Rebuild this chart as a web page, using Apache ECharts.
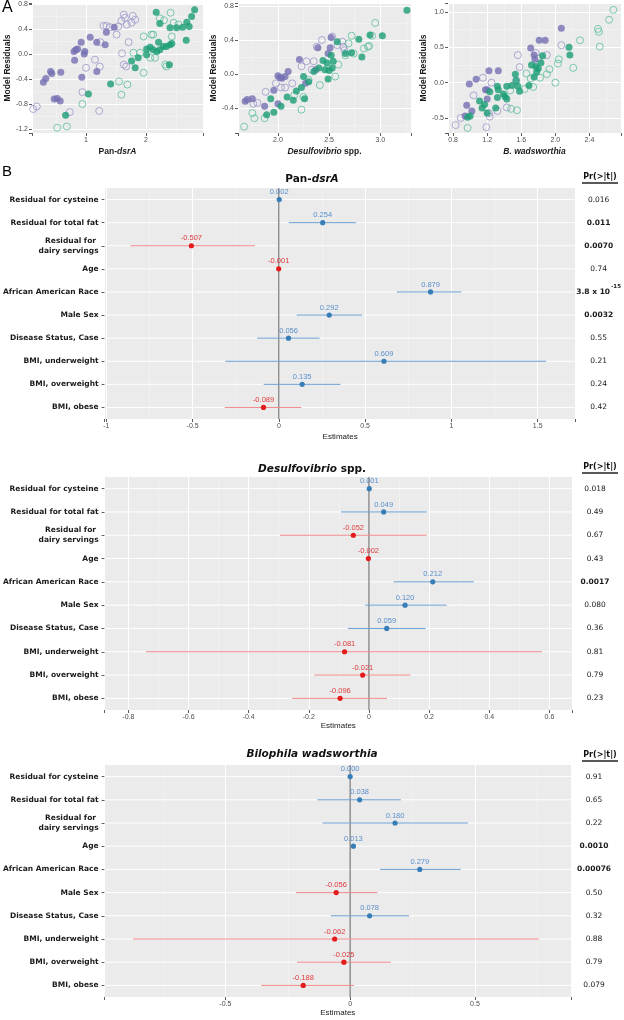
<!DOCTYPE html>
<html><head><meta charset="utf-8">
<script src="https://cdn.jsdelivr.net/npm/echarts@6/dist/echarts.min.js"></script>
<style>html,body{margin:0;padding:0;background:#fff}#c{width:624px;height:1020px}</style>
</head><body><div id="c"></div>
<script>
// ---------- Panel A data: [x, y] ----------
const dsrPurpleFilled = [[0.29,-0.45],[0.33,-0.39],[0.41,-0.28],[0.43,-0.31],[0.58,-0.29],[0.47,-0.72],[0.52,-0.71],[0.57,-0.75],[0.81,-0.10],[0.80,0.04],[0.83,0.07],[0.86,0.08],[0.97,0.0],[0.98,0.04],[0.92,0.19],[1.07,0.27],[1.18,0.19],[0.93,-0.37],[1.18,-0.28],[1.32,0.15],[1.34,0.35],[1.47,0.43]];
const dsrPurpleOpen = [[0.12,-0.88],[0.18,-0.84],[0.73,-0.93],[0.94,-0.61],[1.0,-0.22],[1.15,-0.09],[1.23,-0.20],[1.22,-0.91],[1.29,0.45],[1.34,0.45],[1.40,0.43],[1.51,0.31],[1.54,0.44],[1.59,0.53],[1.65,0.58],[1.68,0.47],[1.76,0.50],[1.78,0.61],[1.82,0.55],[1.63,0.63],[1.71,0.19],[1.60,0.01],[1.63,-0.17],[1.67,-0.20],[1.24,0.19]];
const dsrGreenOpen = [[0.52,-1.18],[0.68,-1.16],[0.94,-0.80],[1.55,-0.44],[1.69,-0.49],[1.59,-0.65],[1.96,-0.30],[1.96,0.28],[2.09,0.31],[2.12,0.31],[2.07,-0.06],[2.15,-0.06],[2.32,-0.17],[2.34,-0.20],[2.23,0.57],[2.30,0.54],[2.41,0.66],[2.46,0.50],[2.43,0.28],[2.54,0.47],[1.90,0.02],[1.79,0.02]];
const dsrGreenFilled = [[0.66,-0.98],[1.04,-0.64],[1.41,-0.48],[1.76,-0.11],[1.82,-0.22],[1.87,-0.06],[2.01,-0.01],[2.01,0.08],[2.07,0.11],[2.12,0.07],[2.18,0.04],[2.23,0.07],[2.29,0.12],[2.34,0.12],[2.40,0.15],[2.43,0.17],[2.21,0.19],[2.39,-0.17],[2.17,0.67],[2.23,0.49],[2.40,0.42],[2.51,0.42],[2.61,0.43],[2.68,0.51],[2.72,0.44],[2.76,0.60],[2.81,0.71],[2.67,0.22]];

const desPurpleFilled = [[1.68,-0.32],[1.70,-0.30],[1.75,-0.29],[1.87,-0.38],[1.96,-0.19],[2.0,-0.02],[2.02,-0.04],[2.04,-0.05],[2.07,-0.03],[2.10,0.03],[2.0,-0.35],[2.21,0.17],[2.27,-0.11],[2.39,0.31],[2.37,0.05],[2.52,0.43],[2.51,0.31],[2.49,0.24]];
const desPurpleOpen = [[1.88,-0.21],[1.76,-0.35],[1.80,-0.34],[1.98,-0.11],[2.03,-0.16],[2.07,-0.16],[2.14,-0.11],[2.23,0.09],[2.28,0.15],[2.35,0.15],[2.38,0.32],[2.33,0.05],[2.43,0.40],[2.53,0.44],[2.58,0.34],[2.63,0.38],[2.64,0.32],[2.65,0.28]];
const desGreenOpen = [[1.67,-0.62],[1.75,-0.46],[1.77,-0.52],[1.87,-0.52],[2.16,-0.25],[2.23,-0.42],[2.25,-0.27],[2.30,-0.07],[2.41,-0.13],[2.56,-0.03],[2.59,0.11],[2.66,0.22],[2.69,0.36],[2.74,0.24],[2.84,0.30],[2.89,0.33],[2.92,0.45],[2.72,0.45],[2.95,0.60],[2.88,0.32]];
const desGreenFilled = [[1.89,-0.48],[1.93,-0.29],[1.96,-0.45],[2.03,-0.38],[2.09,-0.27],[2.15,-0.31],[2.18,-0.20],[2.23,-0.16],[2.25,-0.03],[2.26,-0.29],[2.30,-0.09],[2.35,0.03],[2.40,0.07],[2.44,0.16],[2.48,0.13],[2.46,0.05],[2.49,-0.06],[2.50,0.04],[2.53,0.07],[2.54,0.15],[2.52,0.22],[2.58,0.38],[2.66,0.24],[2.72,0.25],[2.79,0.41],[2.82,0.20],[2.90,0.46],[3.02,0.45],[3.26,0.75]];

const bwPurpleFilled = [[0.96,-0.32],[0.94,-0.47],[1.02,-0.40],[0.99,-0.02],[1.07,0.05],[1.18,-0.10],[1.20,-0.10],[1.20,-0.23],[1.22,0.17],[1.33,0.17],[1.71,0.49],[1.75,0.39],[1.76,0.33],[1.81,0.60],[1.88,0.60],[2.07,0.77]];
const bwPurpleOpen = [[0.83,-0.60],[0.89,-0.50],[1.04,-0.18],[1.15,0.07],[1.22,-0.43],[1.23,-0.48],[1.25,0.0],[1.32,-0.40],[1.43,-0.35],[1.54,0.03],[1.56,0.39],[1.58,0.22],[1.77,0.42],[1.80,0.34],[1.90,0.39],[2.07,0.53],[1.19,-0.63]];
const bwGreenOpen = [[0.97,-0.64],[1.48,-0.37],[1.55,-0.39],[1.64,-0.09],[1.66,0.13],[1.71,0.06],[1.74,-0.06],[1.82,0.07],[1.90,0.12],[1.93,0.19],[2.0,0.0],[2.03,0.27],[2.04,0.33],[2.21,0.21],[2.29,0.60],[2.50,0.76],[2.51,0.72],[2.52,0.51],[2.63,0.89],[2.68,1.03],[1.47,-0.11]];
const bwGreenFilled = [[0.97,-0.49],[1.0,-0.47],[1.11,-0.26],[1.14,-0.36],[1.17,-0.31],[1.20,-0.43],[1.23,-0.13],[1.30,-0.36],[1.32,-0.05],[1.33,-0.10],[1.32,-0.21],[1.39,-0.16],[1.41,-0.20],[1.43,-0.23],[1.43,-0.05],[1.49,-0.04],[1.53,0.12],[1.54,0.03],[1.56,-0.05],[1.58,-0.12],[1.69,-0.04],[1.72,0.25],[1.75,0.08],[1.77,0.23],[1.78,0.15],[1.80,0.20],[1.83,0.28],[1.85,0.38],[2.16,0.50],[2.17,0.39]];

// ---------- Panel B data ----------
const rowLabels = ['Residual for cysteine','Residual for total fat','Residual for \ndairy servings','Age','African American Race','Male Sex','Disease Status, Case','BMI, underweight','BMI, overweight','BMI, obese'];
const zeroRef = [0];

const dsrEst = [0.002,0.254,-0.507,-0.001,0.879,0.292,0.056,0.609,0.135,-0.089];
const dsrLo  = [0.001,0.057,-0.860,-0.007,0.684,0.103,-0.126,-0.310,-0.088,-0.314];
const dsrHi  = [0.003,0.448,-0.138,0.005,1.057,0.483,0.236,1.550,0.357,0.130];
const dsrP   = ['0.016','0.011','0.0070','0.74','3.8 x 10','0.0032','0.55','0.21','0.24','0.42'];
const dsrPExp = ['','','','','-15','','','','',''];
const dsrPBold = [0,1,1,0,1,1,0,0,0,0];

const desEst = [0.001,0.049,-0.052,-0.002,0.212,0.120,0.059,-0.081,-0.021,-0.096];
const desLo  = [0.0003,-0.093,-0.296,-0.006,0.082,-0.013,-0.070,-0.741,-0.182,-0.256];
const desHi  = [0.0017,0.192,0.192,0.002,0.349,0.258,0.188,0.575,0.138,0.060];
const desP   = ['0.018','0.49','0.67','0.43','0.0017','0.080','0.36','0.81','0.79','0.23'];
const desPExp = ['','','','','','','','','',''];
const desPBold = [0,0,0,0,1,0,0,0,0,0];

const bwEst = [0.000,0.038,0.180,0.013,0.279,-0.056,0.078,-0.062,-0.025,-0.188];
const bwLo  = [-0.002,-0.131,-0.111,0.009,0.120,-0.217,-0.077,-0.870,-0.213,-0.356];
const bwHi  = [0.002,0.203,0.472,0.017,0.443,0.109,0.236,0.756,0.163,0.016];
const bwP   = ['0.91','0.65','0.22','0.0010','0.00076','0.50','0.32','0.88','0.79','0.079'];
const bwPExp = ['','','','','','','','','',''];
const bwPBold = [0,0,0,1,1,0,0,0,0,0];

// ---------- styling ----------
const BG = '#EBEBEB';
const SANS = 'Liberation Sans, Arial, sans-serif';
const VER = 'DejaVu Sans, Verdana, sans-serif';
const PURPLE = '#7570B3', PURPLE_O = '#9b97c9', GREEN = '#1B9E77', GREEN_O = '#5cbf9c';
const PT_BLUE = '#377EB8', PT_RED = '#E41A1C';
const LN_BLUE = '#6a9fd2', LN_RED = '#f0898b';
const LB_BLUE = '#5a8fcc', LB_RED = '#e0393e';

function isNice(v, step){ return Math.abs(v/step - Math.round(v/step)) < 1e-6; }
function tickFmt(step, dec){
  return function(v){
    if(!isNice(v, step)) return '';
    const r = Math.round(v/step)*step;
    return dec == null ? String(parseFloat(r.toFixed(6))) : r.toFixed(dec);
  };
}

const grids = [
  {left:32, top:3, width:171, height:130},
  {left:238, top:3, width:173, height:130},
  {left:448, top:3, width:174, height:130},
  {left:102, top:188, width:475, height:231},
  {left:98, top:477, width:474, height:233},
  {left:98, top:765, width:473, height:232}
].map(g => Object.assign({show:true, backgroundColor:BG, borderWidth:0, containLabel:false}, g));

const axLabel = {fontSize:7, color:'#4d4d4d', fontFamily:SANS};
const tick = {show:true, length:3, lineStyle:{color:'#333', width:0.8}};
const split = {show:true, lineStyle:{color:'#ffffff', width:1}};
const minorSplit = {show:true, lineStyle:{color:'#f6f6f6', width:0.5}};
const noLine = {show:false, onZero:false};

function valAxis(gi, min, max, step, dec, extra){
  return Object.assign({
    type:'value', gridIndex:gi, min:min, max:max, minInterval:step, maxInterval:step,
    axisLine:noLine, axisTick:tick, splitLine:split,
    minorTick:{show:false, splitNumber:2}, minorSplitLine:minorSplit,
    axisLabel:Object.assign({formatter:tickFmt(step, dec), margin:4}, axLabel)
  }, extra || {});
}

const nameBold = {fontFamily:SANS, fontWeight:'bold', fontSize:8.5, color:'#1a1a1a'};
const richName = {
  n:{fontFamily:SANS, fontWeight:'bold', fontSize:8.5, color:'#1a1a1a'},
  i:{fontFamily:SANS, fontWeight:'bold', fontStyle:'italic', fontSize:8.5, color:'#1a1a1a'}
};
const estName = {fontFamily:SANS, fontSize:8, color:'#1a1a1a'};

const xAxes = [
  valAxis(0, 0.1, 2.95, 1, null, {name:'{n|Pan-}{i|dsrA}', nameLocation:'middle', nameGap:14, nameTextStyle:Object.assign({rich:richName}, nameBold)}),
  valAxis(1, 1.61, 3.3, 0.5, 1, {name:'{i|Desulfovibrio}{n| spp.}', nameLocation:'middle', nameGap:14, nameTextStyle:Object.assign({rich:richName}, nameBold)}),
  valAxis(2, 0.74, 2.77, 0.4, 1, {name:'{i|B. wadsworthia}', nameLocation:'middle', nameGap:14, nameTextStyle:Object.assign({rich:richName}, nameBold)}),
  valAxis(3, -1.01, 1.72, 0.5, null, {name:'Estimates', nameLocation:'middle', nameGap:14, nameTextStyle:estName}),
  valAxis(4, -0.879, 0.675, 0.2, null, {name:'Estimates', nameLocation:'middle', nameGap:12, nameTextStyle:estName}),
  valAxis(5, -0.984, 0.885, 0.5, null, {name:'Estimates', nameLocation:'middle', nameGap:12, nameTextStyle:estName})
];

const yName = {name:'Model Residuals', nameLocation:'middle', nameGap:19, nameTextStyle:nameBold};
const yAxes = [
  valAxis(0, -1.264, 0.816, 0.4, 1, yName),
  valAxis(1, -0.694, 0.835, 0.4, 1, yName),
  valAxis(2, -0.712, 1.127, 0.5, 1, yName)
];
function leftCat(gi){
  return {type:'category', gridIndex:gi, inverse:true, data:rowLabels, position:'left',
    axisLine:noLine,
    axisTick:{show:true, length:3, alignWithLabel:true, lineStyle:{color:'#333', width:0.8}},
    splitLine:{show:false},
    axisLabel:{margin:6, fontFamily:VER, fontWeight:'bold', fontSize:7.5, color:'#1a1a1a', lineHeight:10, align:'right'}};
}
function rightCat(gi, pv, pexp, pbold){
  return {type:'category', gridIndex:gi, inverse:true, position:'right', data:pv,
    axisLine:noLine, axisTick:{show:false}, splitLine:{show:false},
    axisLabel:{margin:23, align:'center',
      formatter:function(v, i){ const k = pbold[i] ? 'b' : 'n'; return '{' + k + '|' + v + '}' + (pexp[i] ? '{s|' + pexp[i] + '}' : ''); },
      rich:{
        n:{fontFamily:VER, fontSize:7.5, color:'#1a1a1a'},
        b:{fontFamily:VER, fontSize:7.5, fontWeight:'bold', color:'#1a1a1a', lineHeight:16},
        s:{fontFamily:VER, fontSize:5.5, fontWeight:'bold', color:'#1a1a1a', verticalAlign:'top', padding:[0,0,0,1]}
      }}};
}
yAxes.push(leftCat(3), leftCat(4), leftCat(5));
yAxes.push(rightCat(3, dsrP, dsrPExp, dsrPBold), rightCat(4, desP, desPExp, desPBold), rightCat(5, bwP, bwPExp, bwPBold));

function scat(gi, data, filled, col){
  return {type:'scatter', xAxisIndex:gi, yAxisIndex:gi, data:data, symbolSize:7, silent:true,
    itemStyle: filled ? {color:col, borderWidth:0} : {color:'rgba(0,0,0,0)', borderColor:col, borderWidth:1}};
}

// white horizontal grid lines at each row
function rowGrid(k){
  return {type:'custom', xAxisIndex:3+k, yAxisIndex:3+k, silent:true, z:1,
    data:rowLabels.map((_, i) => [0, i]), encode:{x:0, y:1},
    renderItem:function(params, api){
      const cs = params.coordSys;
      const y = api.coord([api.value(0), api.value(1)])[1];
      return {type:'line', shape:{x1:cs.x, y1:y, x2:cs.x + cs.width, y2:y}, style:{stroke:'#ffffff', lineWidth:1}};
    }};
}
// vertical reference line at zero
function zeroLine(k){
  return {type:'custom', xAxisIndex:3+k, yAxisIndex:3+k, silent:true, z:2,
    data:zeroRef.map(v => [v, 0]), encode:{x:0, y:1},
    renderItem:function(params, api){
      const cs = params.coordSys;
      const x = api.coord([api.value(0), 0])[0];
      return {type:'line', shape:{x1:x, y1:cs.y, x2:x, y2:cs.y + cs.height}, style:{stroke:'#4d4d4d', lineWidth:0.9}};
    }};
}
function forest(k, est, lo, hi){
  const data = est.map((e,i)=>[e, i, lo[i], hi[i]]);
  return {type:'custom', xAxisIndex:3+k, yAxisIndex:3+k, data:data, silent:true, z:3,
    encode:{x:[0,2,3], y:1},
    renderItem:function(params, api){
      const e = api.value(0), i = api.value(1), l = api.value(2), h = api.value(3);
      const p = api.coord([e, i]), pl = api.coord([l, i]), ph = api.coord([h, i]);
      const pos = e >= 0;
      return {type:'group', children:[
        {type:'line', shape:{x1:pl[0], y1:pl[1], x2:ph[0], y2:ph[1]}, style:{stroke: pos ? LN_BLUE : LN_RED, lineWidth:1}},
        {type:'circle', shape:{cx:p[0], cy:p[1], r:2.6}, style:{fill: pos ? PT_BLUE : PT_RED}},
        {type:'text', x:p[0], y:p[1]-3.5, style:{text:e.toFixed(3), fill: pos ? LB_BLUE : LB_RED, font:'7.5px ' + SANS, align:'center', verticalAlign:'bottom'}}
      ]};
    }};
}

const titleRich = {
  n:{fontFamily:VER, fontWeight:'bold', fontSize:10.5, color:'#111'},
  i:{fontFamily:VER, fontWeight:'bold', fontStyle:'italic', fontSize:10.5, color:'#111'}
};

const option = {
  animation:false,
  title:[
    {text:'{n|Pan-}{i|dsrA}', left:'center', top:169, textStyle:{rich:titleRich}},
    {text:'{i|Desulfovibrio}{n| spp.}', left:'center', top:459, textStyle:{rich:titleRich}},
    {text:'{i|Bilophila wadsworthia}', left:'center', top:744, textStyle:{rich:titleRich}}
  ],
  grid:grids,
  xAxis:xAxes,
  yAxis:yAxes,
  series:[
    scat(0, dsrPurpleOpen, false, PURPLE_O), scat(0, dsrGreenOpen, false, GREEN_O),
    scat(0, dsrPurpleFilled, true, PURPLE), scat(0, dsrGreenFilled, true, GREEN),
    scat(1, desPurpleOpen, false, PURPLE_O), scat(1, desGreenOpen, false, GREEN_O),
    scat(1, desPurpleFilled, true, PURPLE), scat(1, desGreenFilled, true, GREEN),
    scat(2, bwPurpleOpen, false, PURPLE_O), scat(2, bwGreenOpen, false, GREEN_O),
    scat(2, bwPurpleFilled, true, PURPLE), scat(2, bwGreenFilled, true, GREEN),
    rowGrid(0), rowGrid(1), rowGrid(2),
    zeroLine(0), zeroLine(1), zeroLine(2),
    forest(0, dsrEst, dsrLo, dsrHi),
    forest(1, desEst, desLo, desHi),
    forest(2, bwEst, bwLo, bwHi)
  ],
  graphic:[
    {type:'text', left:2, top:0, style:{text:'A', font:'16px ' + SANS, fill:'#000'}},
    {type:'text', left:2, top:164, style:{text:'B', font:'15px ' + SANS, fill:'#000'}},
    {type:'text', x:600, y:177, style:{text:'Pr(>|t|)', font:'bold 8px ' + VER, fill:'#111', align:'center', verticalAlign:'middle'}},
    {type:'line', shape:{x1:582, y1:183, x2:618, y2:183}, style:{stroke:'#222', lineWidth:1.3}},
    {type:'text', x:600, y:467, style:{text:'Pr(>|t|)', font:'bold 8px ' + VER, fill:'#111', align:'center', verticalAlign:'middle'}},
    {type:'line', shape:{x1:582, y1:473, x2:618, y2:473}, style:{stroke:'#222', lineWidth:1.3}},
    {type:'text', x:600, y:755, style:{text:'Pr(>|t|)', font:'bold 8px ' + VER, fill:'#111', align:'center', verticalAlign:'middle'}},
    {type:'line', shape:{x1:582, y1:761, x2:618, y2:761}, style:{stroke:'#222', lineWidth:1.3}}
  ]
};

const chart = echarts.init(document.getElementById('c'));
chart.setOption(option);
</script>
</body></html>
